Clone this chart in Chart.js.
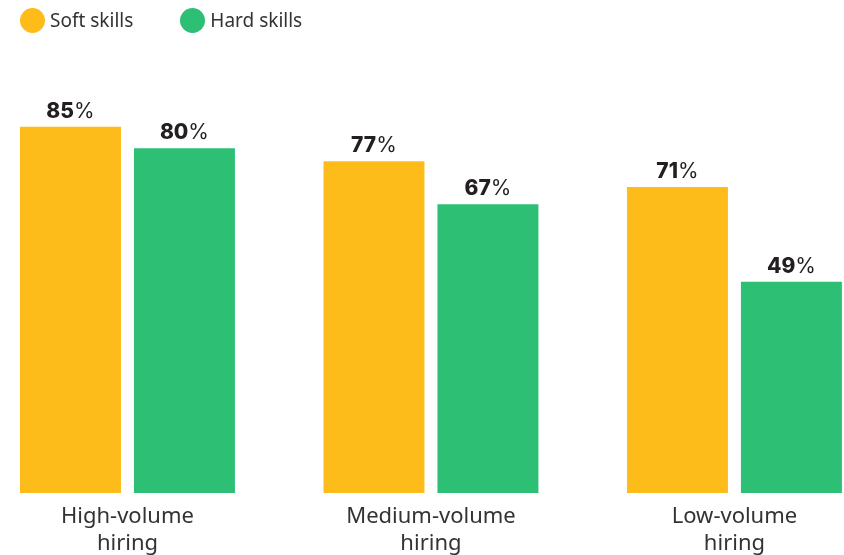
<!DOCTYPE html>
<html>
<head>
<meta charset="utf-8">
<script src="https://cdn.jsdelivr.net/npm/chart.js@4.4.1/dist/chart.umd.min.js"></script>
<style>
  html, body { margin: 0; padding: 0; background: #fff; overflow: hidden; }
  #wrap { position: relative; width: 844px; height: 555px; }
  #legend { position: absolute; top: 7px; left: 20px; display: flex; align-items: center;
    font-family: "Noto Sans", sans-serif; font-size: 19px; color: #333; }
  #legend .item { display: flex; align-items: center; margin-right: 47px; }
  #legend .dot { width: 25px; height: 25px; border-radius: 50%; margin-right: 5px; }
  canvas { position: absolute; left: 0; top: 0; }
</style>
</head>
<body>
<div id="wrap">
  <canvas id="skills" width="844" height="555"></canvas>
  <div id="legend"></div>
</div>
<script>
const categories = [
  ['High-volume', 'hiring'],
  ['Medium-volume', 'hiring'],
  ['Low-volume', 'hiring']
];
const softSkills = [85, 77, 71];
const hardSkills = [80, 67, 49];
const seriesNames = ['Soft skills', 'Hard skills'];
const seriesColors = ['#FEBC1B', '#2DBF74'];

// legend
const legendEl = document.getElementById('legend');
seriesNames.forEach((name, i) => {
  const item = document.createElement('div');
  item.className = 'item';
  item.innerHTML = `<span class="dot" style="background:${seriesColors[i]}"></span><span>${name}</span>`;
  legendEl.appendChild(item);
});

// value labels: bold number + regular %
const valueLabels = {
  id: 'valueLabels',
  afterDatasetsDraw(chart) {
    const ctx = chart.ctx;
    ctx.save();
    ctx.fillStyle = '#231f20';
    ctx.textBaseline = 'alphabetic';
    ctx.textAlign = 'left';
    chart.data.datasets.forEach((ds, di) => {
      chart.getDatasetMeta(di).data.forEach((bar, i) => {
        const num = String(ds.data[i].y);
        ctx.font = '800 21px Inter, Roboto, sans-serif';
        const wNum = ctx.measureText(num).width;
        ctx.font = '400 21px Inter, Roboto, sans-serif';
        const wPct = ctx.measureText('%').width;
        const x0 = bar.x - (wNum + wPct) / 2;
        const y = bar.y - 9;
        ctx.font = '800 21px Inter, Roboto, sans-serif';
        ctx.fillText(num, x0, y);
        ctx.font = '400 21px Inter, Roboto, sans-serif';
        ctx.fillText('%', x0 + wNum, y);
      });
    });
    ctx.restore();
  }
};

const ctx = document.getElementById('skills').getContext('2d');
new Chart(ctx, {
  type: 'bar',
  data: {
    datasets: [
      {
        label: seriesNames[0],
        data: softSkills.map((v, i) => ({ x: i, y: v })),
        backgroundColor: seriesColors[0]
      },
      {
        label: seriesNames[1],
        data: hardSkills.map((v, i) => ({ x: i, y: v })),
        backgroundColor: seriesColors[1]
      }
    ]
  },
  options: {
    responsive: false,
    animation: false,
    categoryPercentage: 0.751,
    barPercentage: 0.886,
    layout: { padding: { top: 62, left: 0, right: 0, bottom: 0 } },
    plugins: {
      legend: { display: false },
      tooltip: { enabled: false }
    },
    scales: {
      x: {
        type: 'linear',
        offset: false,
        min: -0.42,
        max: 2.361,
        grid: { display: false, drawTicks: false, offset: false },
        border: { display: false },
        afterFit: (scale) => { scale.height = 62; },
        ticks: {
          stepSize: 1,
          includeBounds: false,
          autoSkip: false,
          maxRotation: 0,
          padding: 10,
          color: '#333',
          font: { family: '"Noto Sans", sans-serif', size: 22, lineHeight: 1.24 },
          callback: (value) => (Number.isInteger(value) && categories[value]) ? categories[value] : ''
        }
      },
      y: {
        display: false,
        min: 0,
        max: 100
      }
    }
  },
  plugins: [valueLabels]
});
</script>
</body>
</html>
